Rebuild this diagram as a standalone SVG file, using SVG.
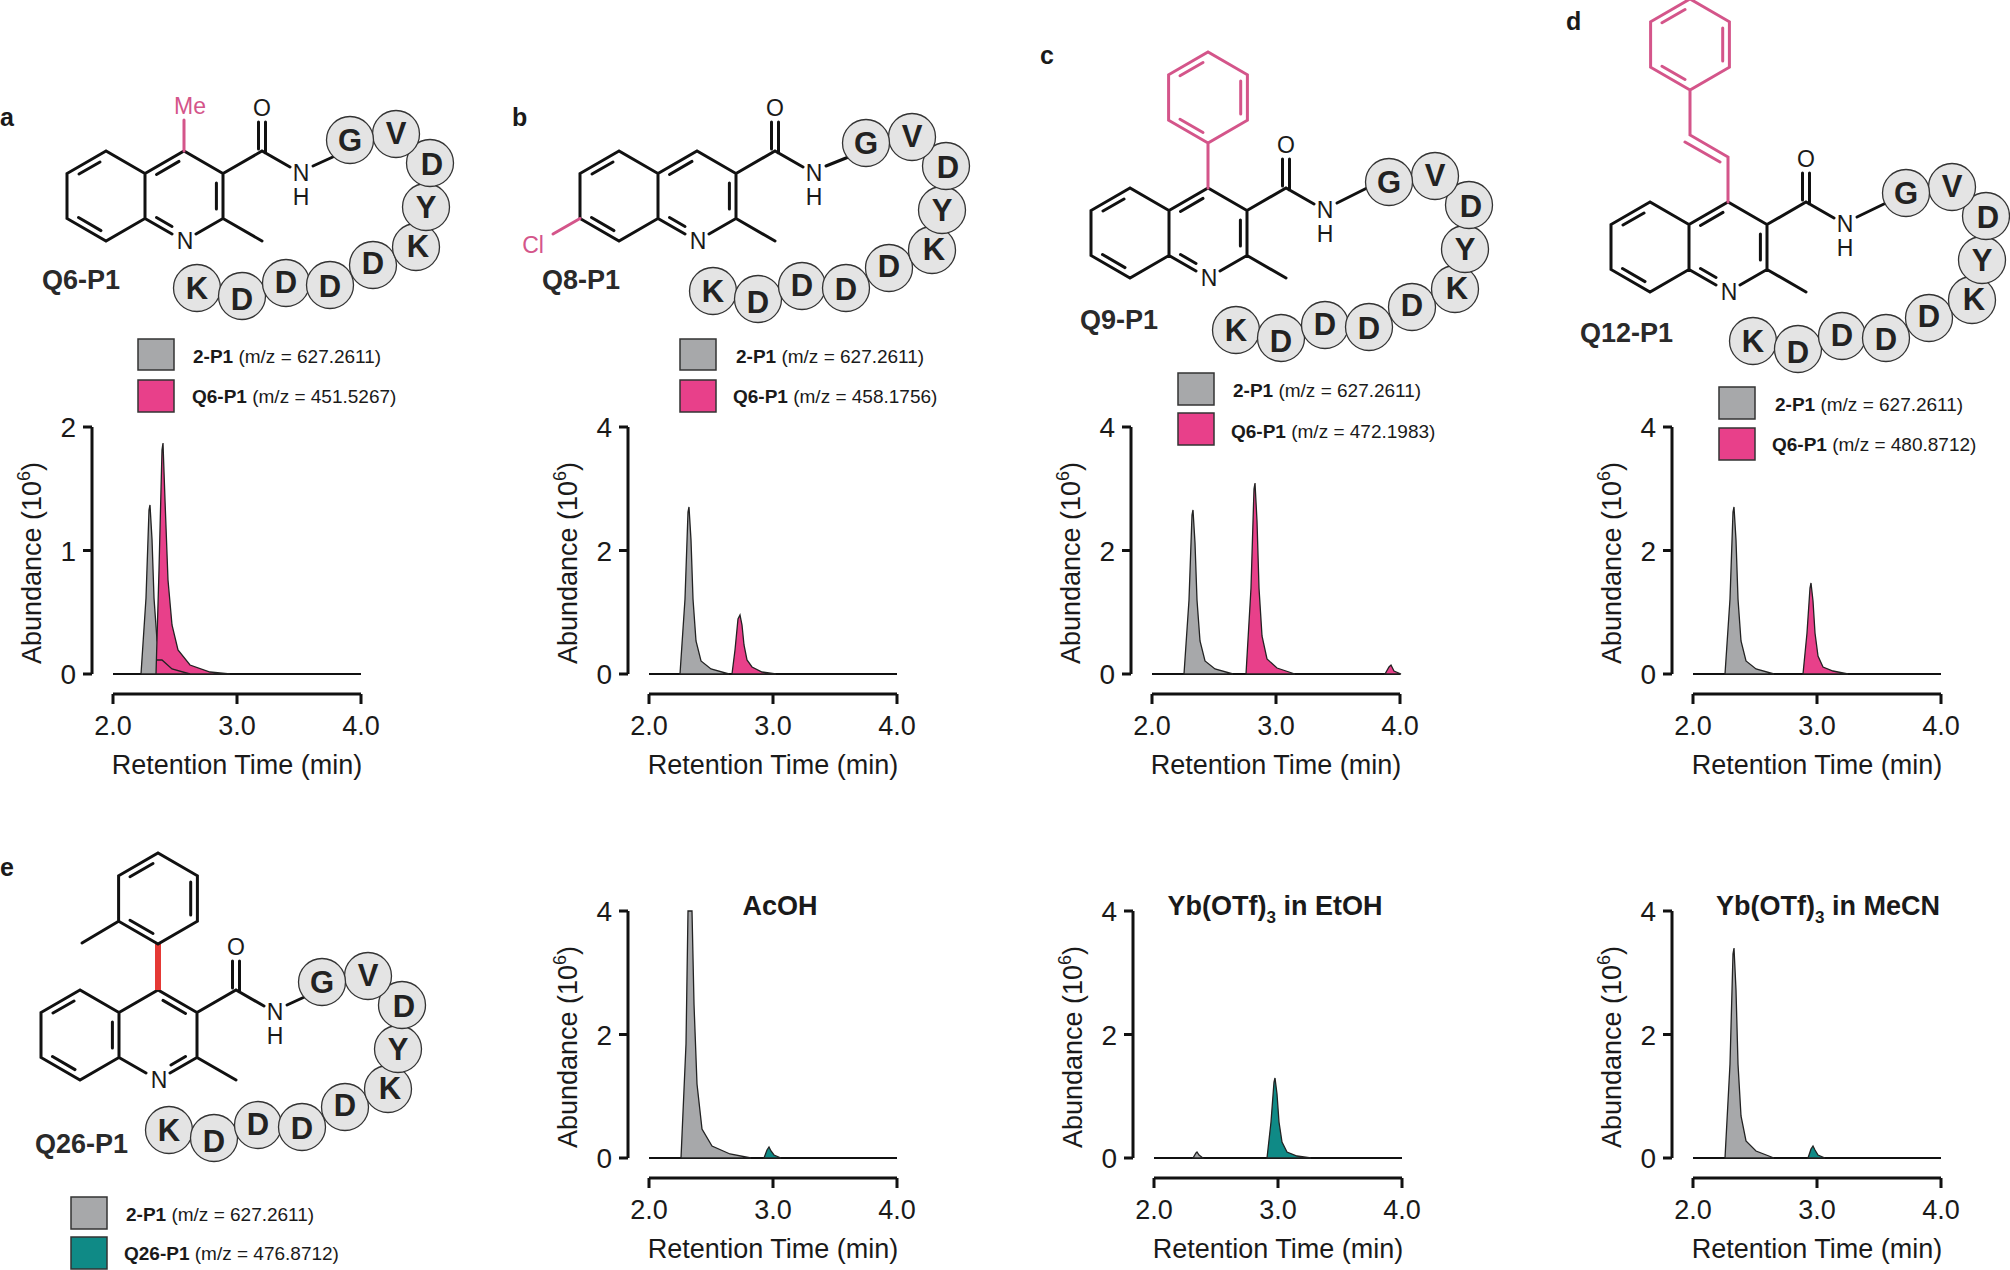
<svg xmlns="http://www.w3.org/2000/svg" xmlns:xlink="http://www.w3.org/1999/xlink" width="2010" height="1270" viewBox="0 0 2010 1270">
<style>
text{font-family:"Liberation Sans",Arial,sans-serif;fill:#1a1a1a}
.b{stroke:#111;stroke-width:3;fill:none;stroke-linecap:round}
.pk{stroke:#d4558a;stroke-width:3;fill:none;stroke-linecap:round}
.at{font-size:23px;text-anchor:middle}
.aa circle{fill:#e4e4e4;stroke:#333;stroke-width:1.3}
.aa text{font-size:31px;font-weight:bold;text-anchor:middle;fill:#222}
.ax{stroke:#111;stroke-width:3;fill:none}
.tk{font-size:28px}
.lab{font-size:27px;text-anchor:middle}
.cmp{font-size:27px;font-weight:bold;fill:#2a2a2a}
.pl{font-size:25px;font-weight:bold}
.lg{font-size:19px}
.lgb{font-weight:bold}
.sq{stroke:#333;stroke-width:1.5}
.gray{fill:#a7a8aa;stroke:#222;stroke-width:1.3}
.pink{fill:#e8408a;stroke:#222;stroke-width:1.3}
.teal{fill:#0f8a86;stroke:#222;stroke-width:1.3}
.bl{stroke:#111;stroke-width:2}
.ttl{font-size:27px;font-weight:bold;text-anchor:middle}
</style>
<defs>
<g id="coreBonds">
<path class="b" d="M106,151 L67,173.5 L67,218.5 L106,241 L145,218.5 L145,173.5 Z M145,173.5 L184,151 L223,173.5 L223,218.5 L196,234 M145,218.5 L172,234 M223,218.5 L262,241 M223,173.5 L262,151 L290,167 M258.5,149 L258.5,122 M265.5,153 L265.5,122"/>
<text class="at" x="262" y="116" font-size="25">O</text>
<text class="at" x="185" y="249">N</text>
<text class="at" x="301" y="181">N</text>
<text class="at" x="301" y="205">H</text>
</g>
<g id="coreA">
<use xlink:href="#coreBonds"/>
<path class="b" d="M100,162 L79,174 M78.5,217.5 L101,230.6 M156.5,174.5 L179,161.4 M216.4,183 L216.4,209 M156.5,217.5 L172,226.5"/>
</g>
<g id="coreE">
<use xlink:href="#coreBonds"/>
<path class="b" d="M100,162 L79,174 M78.5,217.5 L101,230.6 M138.4,183 L138.4,209 M189,161.4 L211.5,174.5 M211.5,217.5 L197,226"/>
</g>
<g id="pep" class="aa">
<circle cx="-153" cy="148" r="23.5"/><text x="-153" y="159">K</text>
<circle cx="-108" cy="156" r="23.5"/><text x="-108" y="170">D</text>
<circle cx="-64" cy="143" r="23.5"/><text x="-64" y="153">D</text>
<circle cx="-20" cy="145" r="23.5"/><text x="-20" y="157">D</text>
<circle cx="23" cy="125" r="23.5"/><text x="23" y="134">D</text>
<circle cx="66" cy="107" r="23.5"/><text x="68" y="117">K</text>
<circle cx="76" cy="67" r="23.5"/><text x="76" y="78">Y</text>
<circle cx="80" cy="23" r="23.5"/><text x="82" y="35">D</text>
<circle cx="46" cy="-6" r="23.5"/><text x="46" y="4">V</text>
<circle cx="0" cy="0" r="23.5"/><text x="0" y="11">G</text>
</g>
<g id="axes4">
<path class="ax" d="M92,427 L92,674 M83,427 L92,427 M83,550.5 L92,550.5 M83,674 L92,674 M113,694 L361,694 M113,694 L113,704 M237,694 L237,704 M361,694 L361,704"/>
<text class="tk" x="76" y="437" text-anchor="end">4</text>
<text class="tk" x="76" y="561" text-anchor="end">2</text>
<text class="tk" x="76" y="684" text-anchor="end">0</text>
<text class="lab" x="113" y="735">2.0</text><text class="lab" x="237" y="735">3.0</text><text class="lab" x="361" y="735">4.0</text>
<text class="lab" x="237" y="774">Retention Time (min)</text>
<text class="lab" transform="translate(41,563) rotate(-90)">Abundance (10<tspan font-size="18" dy="-11">6</tspan><tspan dy="11">)</tspan></text>
</g>
</defs>

<!-- panel labels -->
<text class="pl" x="0" y="126">a</text>
<text class="pl" x="512" y="126">b</text>
<text class="pl" x="1040" y="64">c</text>
<text class="pl" x="1566" y="30">d</text>
<text class="pl" x="0" y="876">e</text>

<!-- structures -->
<g id="Q6-P1">
<use xlink:href="#coreA"/>
<path class="pk" d="M184,151 L184,120"/>
<text class="at" x="190" y="114" style="fill:#d4558a">Me</text>
<path class="b" d="M313,166 L335,156"/>
<use xlink:href="#pep" transform="translate(350,140)"/>
<text class="cmp" x="42" y="289">Q6-P1</text>
</g>
<g id="Q8-P1">
<g transform="translate(513,0)"><use xlink:href="#coreA"/><path class="b" d="M313,166 L338,156"/></g>
<path class="pk" d="M580,218.5 L553,234"/>
<text class="at" x="533" y="253" style="fill:#d4558a">Cl</text>
<use xlink:href="#pep" transform="translate(866,143)"/>
<text class="cmp" x="542" y="289">Q8-P1</text>
</g>
<g id="Q9-P1">
<g transform="translate(1024,37)"><use xlink:href="#coreA"/><path class="b" d="M313,166 L345,150"/></g>
<path class="pk" d="M1208,188 L1208,143 M1208,143 L1168.6,120.25 L1168.6,74.75 L1208,52 L1247.4,74.75 L1247.4,120.25 Z M1180,75.8 L1203,62.5 M1240.7,81 L1240.7,114 M1180,119.2 L1203,132.5"/>
<use xlink:href="#pep" transform="translate(1389,182)"/>
<text class="cmp" x="1080" y="329">Q9-P1</text>
</g>
<g id="Q12-P1">
<g transform="translate(1544,51)"><use xlink:href="#coreA"/><path class="b" d="M313,166 L342,152"/></g>
<path class="pk" d="M1728,202 L1728,157 L1690,135 L1690,90 M1690,90 L1650.6,67.25 L1650.6,21.75 L1690,-1 L1729.4,21.75 L1729.4,67.25 Z M1685,142 L1720,162 M1662,22.8 L1685,9.5 M1722.7,28 L1722.7,61 M1662,66.2 L1685,79.5"/>
<use xlink:href="#pep" transform="translate(1906,193)"/>
<text class="cmp" x="1580" y="342">Q12-P1</text>
</g>
<g id="Q26-P1">
<g transform="translate(-26,839)"><use xlink:href="#coreE"/><path class="b" d="M313,166 L337,155"/></g>
<path d="M158,990 L158,944" stroke="#e53935" stroke-width="6"/>
<path class="b" d="M158,944 L118.6,921.25 L118.6,875.75 L158,853 L197.4,875.75 L197.4,921.25 Z M118.6,921.25 L82,943 M130,876.8 L153,863.5 M190.7,882 L190.7,915 M130,920.2 L153,933.5"/>
<use xlink:href="#pep" transform="translate(322,982)"/>
<text class="cmp" x="35" y="1153">Q26-P1</text>
</g>

<!-- legends -->
<g id="legend-a">
<rect class="sq" x="138" y="339" width="36" height="31" fill="#a7a8aa"/>
<rect class="sq" x="138" y="380" width="36" height="32" fill="#e8408a"/>
<text class="lg" x="193" y="363"><tspan class="lgb">2-P1</tspan> (m/z = 627.2611)</text>
<text class="lg" x="192" y="403"><tspan class="lgb">Q6-P1</tspan> (m/z = 451.5267)</text>
</g>
<g id="legend-b">
<rect class="sq" x="680" y="339" width="36" height="31" fill="#a7a8aa"/>
<rect class="sq" x="680" y="380" width="36" height="32" fill="#e8408a"/>
<text class="lg" x="736" y="363"><tspan class="lgb">2-P1</tspan> (m/z = 627.2611)</text>
<text class="lg" x="733" y="403"><tspan class="lgb">Q6-P1</tspan> (m/z = 458.1756)</text>
</g>
<g id="legend-c">
<rect class="sq" x="1178" y="373" width="36" height="32" fill="#a7a8aa"/>
<rect class="sq" x="1178" y="413" width="36" height="32" fill="#e8408a"/>
<text class="lg" x="1233" y="397"><tspan class="lgb">2-P1</tspan> (m/z = 627.2611)</text>
<text class="lg" x="1231" y="438"><tspan class="lgb">Q6-P1</tspan> (m/z = 472.1983)</text>
</g>
<g id="legend-d">
<rect class="sq" x="1719" y="387" width="36" height="32" fill="#a7a8aa"/>
<rect class="sq" x="1719" y="428" width="36" height="32" fill="#e8408a"/>
<text class="lg" x="1775" y="411"><tspan class="lgb">2-P1</tspan> (m/z = 627.2611)</text>
<text class="lg" x="1772" y="451"><tspan class="lgb">Q6-P1</tspan> (m/z = 480.8712)</text>
</g>
<g id="legend-e">
<rect class="sq" x="71" y="1197" width="36" height="32" fill="#a7a8aa"/>
<rect class="sq" x="71" y="1237" width="36" height="32" fill="#0f8a86"/>
<text class="lg" x="126" y="1221"><tspan class="lgb">2-P1</tspan> (m/z = 627.2611)</text>
<text class="lg" x="124" y="1260"><tspan class="lgb">Q26-P1</tspan> (m/z = 476.8712)</text>
</g>

<!-- charts -->
<g id="chart-a">
<path class="ax" d="M92,427 L92,674 M83,427 L92,427 M83,550.5 L92,550.5 M83,674 L92,674 M113,694 L361,694 M113,694 L113,704 M237,694 L237,704 M361,694 L361,704"/>
<text class="tk" x="76" y="437" text-anchor="end">2</text>
<text class="tk" x="76" y="561" text-anchor="end">1</text>
<text class="tk" x="76" y="684" text-anchor="end">0</text>
<text class="lab" x="113" y="735">2.0</text><text class="lab" x="237" y="735">3.0</text><text class="lab" x="361" y="735">4.0</text>
<text class="lab" x="237" y="774">Retention Time (min)</text>
<text class="lab" transform="translate(41,563) rotate(-90)">Abundance (10<tspan font-size="18" dy="-11">6</tspan><tspan dy="11">)</tspan></text>
<path class="bl" d="M113,674 L361,674"/>
<path class="gray" d="M141,674 L146,598 L149,510 L150,505 L152,539 L154,598 L157,640 L162,660 L172,669 L190,674Z"/>
<path class="pink" d="M156,674 L159,570 L162,450 L163,443 L165,500 L168,580 L172,625 L178,650 L190,665 L210,672 L230,674Z"/>
<path d="M157,660 L162,660 L172,669 L190,674" stroke="#222" stroke-width="1.3" fill="none"/>
</g>
<g id="chart-b" transform="translate(536,0)">
<use xlink:href="#axes4"/>
<path class="bl" d="M113,674 L361,674"/>
<path class="gray" d="M144,674 L149,599 L152,512 L153,507 L155,540 L157,599 L160,641 L165,661 L175,669 L193,674Z"/>
<path class="pink" d="M196,674 L199,650 L202,619 L204,615 L206,625 L208,645 L211,660 L216,667 L226,672 L240,674Z"/>
</g>
<g id="chart-c" transform="translate(1039,0)">
<use xlink:href="#axes4"/>
<path class="bl" d="M113,674 L361,674"/>
<path class="gray" d="M145,674 L150,600 L153,515 L154,510 L156,543 L158,600 L161,641 L166,661 L176,669 L194,674Z"/>
<path class="pink" d="M207,674 L212,588 L215,489 L216,483 L218,521 L220,588 L223,636 L228,659 L238,668 L256,674Z"/>
<path class="pink" d="M346,674 L350,667 L352,665 L355,671 L362,674Z"/>
</g>
<g id="chart-d" transform="translate(1580,0)">
<use xlink:href="#axes4"/>
<path class="bl" d="M113,674 L361,674"/>
<path class="gray" d="M145,674 L150,599 L153,512 L154,507 L156,540 L158,599 L161,641 L166,661 L176,669 L194,674Z"/>
<path class="pink" d="M223,674 L227,633 L230,588 L231,583 L233,601 L235,633 L238,656 L243,667 L253,671 L268,674Z"/>
</g>
<g id="chart-e1" transform="translate(536,484)">
<use xlink:href="#axes4"/>
<text class="ttl" x="244" y="431">AcOH</text>
<path class="bl" d="M113,674 L361,674"/>
<path class="gray" d="M145,674 L150,560 L152,427 L156,427 L158,520 L161,600 L166,645 L176,662 L194,670 L215,674Z"/>
<path class="teal" d="M228,674 L231,666 L233,663 L235,667 L238,671 L245,674Z"/>
</g>
<g id="chart-e2" transform="translate(1041,484)">
<use xlink:href="#axes4"/>
<text class="ttl" x="234" y="431">Yb(OTf)<tspan font-size="17" dy="8">3</tspan><tspan dy="-8"> in EtOH</tspan></text>
<path class="bl" d="M113,674 L361,674"/>
<path class="gray" d="M152,674 L155,669 L156,668 L158,671 L162,674Z"/>
<path class="teal" d="M226,674 L230,638 L233,598 L234,594 L236,610 L238,638 L241,658 L246,668 L256,672 L270,674Z"/>
</g>
<g id="chart-e3" transform="translate(1580,484)">
<use xlink:href="#axes4"/>
<text class="ttl" x="248" y="431">Yb(OTf)<tspan font-size="17" dy="8">3</tspan><tspan dy="-8"> in MeCN</tspan></text>
<path class="bl" d="M113,674 L361,674"/>
<path class="gray" d="M145,674 L150,580 L153,470 L154,464 L156,506 L158,580 L161,632 L166,657 L176,667 L194,674Z"/>
<path class="teal" d="M228,674 L231,665 L233,662 L235,666 L238,671 L245,674Z"/>
</g>
</svg>
